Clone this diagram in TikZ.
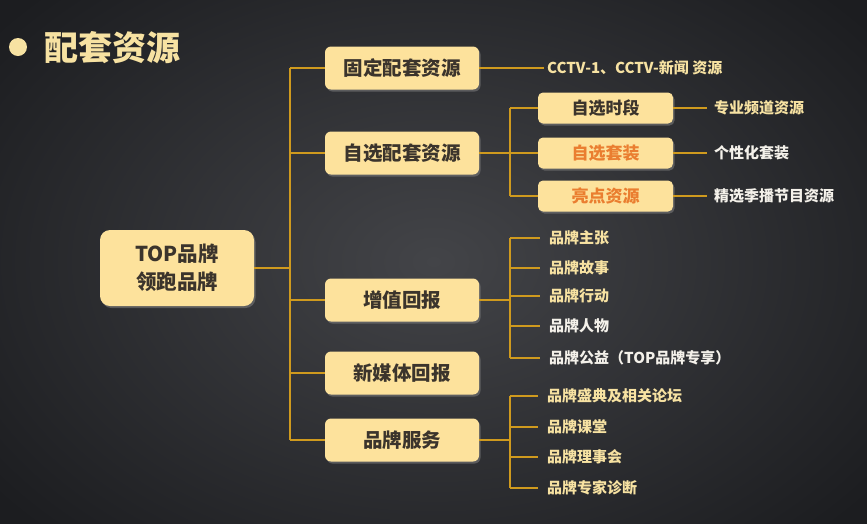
\documentclass[tikz,border=0pt]{standalone}
\usepackage{fontspec}
\setmainfont{Noto Sans CJK SC}
\usetikzlibrary{shadows}
\definecolor{bgin}{HTML}{434448}
\definecolor{bgout}{HTML}{1C1D20}
\definecolor{boxfill}{HTML}{FDE29C}
\definecolor{boxtext}{HTML}{3B342C}
\definecolor{orangetext}{HTML}{EA7E30}
\definecolor{gold}{HTML}{CF9A1E}
\definecolor{cream}{HTML}{F7E2A2}
\definecolor{whitish}{HTML}{F4F1EA}
\tikzset{
  boxbase/.style={fill=boxfill, text=boxtext, font=\bfseries, align=center,
    drop shadow={opacity=0.55, shadow xshift=1.5pt, shadow yshift=-2pt}},
  rootbox/.style={boxbase, rounded corners=10pt, minimum width=154pt, minimum height=76pt,
    font=\fontsize{20.5}{28}\selectfont\bfseries},
  lvlbox/.style={boxbase, rounded corners=6pt, minimum width=154pt, minimum height=43pt,
    font=\fontsize{19.5}{22}\selectfont\bfseries},
  subbox/.style={boxbase, rounded corners=5pt, minimum width=135pt, minimum height=31pt,
    font=\fontsize{17}{19}\selectfont\bfseries},
  leaf/.style={anchor=west, inner sep=0pt, text=cream, font=\fontsize{15}{17}\selectfont\bfseries},
  leafw/.style={leaf, text=whitish},
  conn/.style={draw=gold, line width=1.4pt},
}
\begin{document}
\begin{tikzpicture}[x=1pt,y=-1pt]
\useasboundingbox (0,0) rectangle (867,523);
\shade[inner color=bgin, outer color=bgout] (-120,-120) rectangle (987,643);
% title
\fill[cream] (18,47) circle (9pt);
\node[anchor=west, text=cream, inner sep=0pt, font=\fontsize{34}{36}\selectfont\bfseries] (title) at (44,48) {配套资源};
% root
\node[rootbox] (root) at (177,268) {TOP品牌\\领跑品牌};
% level 1
\node[lvlbox] (b1) at (402,68) {固定配套资源};
\node[lvlbox] (b2) at (402,153) {自选配套资源};
\node[lvlbox] (b3) at (402,300) {增值回报};
\node[lvlbox] (b4) at (402,373) {新媒体回报};
\node[lvlbox] (b5) at (402,440) {品牌服务};
% sub boxes
\node[subbox] (c1) at (605.5,108) {自选时段};
\node[subbox, text=orangetext] (c2) at (605.5,153) {自选套装};
\node[subbox, text=orangetext] (c3) at (605.5,196) {亮点资源};
% leaves
\node[leaf] (l0) at (547,68) {CCTV-1、CCTV-新闻 资源};
\node[leaf] (l1) at (714,108) {专业频道资源};
\node[leafw] (l2) at (714,153) {个性化套装};
\node[leafw] (l3) at (714,196) {精选季播节目资源};
\node[leaf] (m1) at (549,238) {品牌主张};
\node[leaf] (m2) at (549,268) {品牌故事};
\node[leaf] (m3) at (549,296) {品牌行动};
\node[leafw] (m4) at (549,326) {品牌人物};
\node[leafw] (m5) at (549,358) {品牌公益（TOP品牌专享）};
\node[leaf] (n1) at (547,396) {品牌盛典及相关论坛};
\node[leaf] (n2) at (547,427) {品牌课堂};
\node[leaf] (n3) at (547,457) {品牌理事会};
\node[leaf] (n4) at (547,488) {品牌专家诊断};
% spine coordinates
\coordinate (sTop) at (290,68);
\coordinate (sBot) at (290,440);
\coordinate (k2) at (510,108);
\coordinate (k2b) at (510,196);
\coordinate (k3) at (510,238);
\coordinate (k3b) at (510,358);
\coordinate (k5) at (510,396);
\coordinate (k5b) at (510,488);
% main spine
\draw[conn] (sTop) -- (sBot);
\draw[conn] (root.east) -- (root.east -| sTop);
\foreach \b in {b1,b2,b3,b4,b5} \draw[conn] (\b.west -| sTop) -- (\b.west);
% fixed
\draw[conn] (b1.east) -- ([xshift=-3pt]l0.west);
% self-selected
\draw[conn] (k2) -- (k2b);
\draw[conn] (b2.east) -- (b2.east -| k2);
\foreach \c in {c1,c2,c3} {
  \draw[conn] (\c.west -| k2) -- (\c.west);
}
\draw[conn] (c1.east) -- ([xshift=-7pt]l1.west);
\draw[conn] (c2.east) -- ([xshift=-7pt]l2.west);
\draw[conn] (c3.east) -- ([xshift=-7pt]l3.west);
% value-added
\draw[conn] (k3) -- (k3b);
\draw[conn] (b3.east) -- (b3.east -| k3);
\foreach \m in {m1,m2,m3,m4,m5} \draw[conn] (\m.west -| k3) -- ([xshift=-9pt]\m.west);
% brand service
\draw[conn] (k5) -- (k5b);
\draw[conn] (b5.east) -- (b5.east -| k5);
\foreach \n in {n1,n2,n3,n4} \draw[conn] (\n.west -| k5) -- ([xshift=-9pt]\n.west);
\end{tikzpicture}
\end{document}
